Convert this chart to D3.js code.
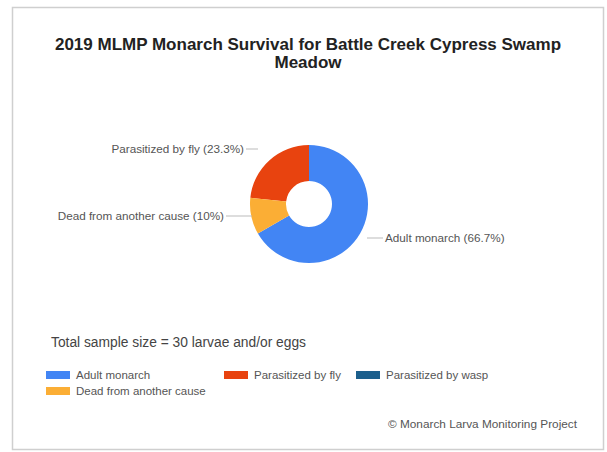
<!DOCTYPE html>
<html>
<head>
<meta charset="utf-8">
<script src="https://cdn.jsdelivr.net/npm/d3@7"></script>
<style>
  body { margin: 0; background: #fff; }
  svg { display: block; font-family: "Liberation Sans", Arial, sans-serif; }
</style>
</head>
<body>
<svg id="chart" width="607" height="452"></svg>
<script>
// chart data
const categories = ["Adult monarch", "Parasitized by fly", "Parasitized by wasp", "Dead from another cause"];
const counts = [20, 7, 0, 3];
const colors = ["#4285f4", "#e8430f", "#1c5f8c", "#fbae35"];
// order the slices are drawn clockwise from 12 o'clock
const sliceOrder = ["Adult monarch", "Parasitized by wasp", "Dead from another cause", "Parasitized by fly"];
const sampleNote = "Total sample size = 30 larvae and/or eggs";
const titleLines = ["2019 MLMP Monarch Survival for Battle Creek Cypress Swamp", "Meadow"];
const credit = "\u00a9 Monarch Larva Monitoring Project";

const svg = d3.select('#chart');
const total = d3.sum(counts);
const color = d3.scaleOrdinal().domain(categories).range(colors);

// frame
svg.append('rect')
    .attr('x', 12.5).attr('y', 7.5)
    .attr('width', 591).attr('height', 442)
    .attr('fill', '#fff')
    .attr('stroke', '#cfcfcf')
    .attr('stroke-width', 1.5);

// title
svg.append('text')
    .attr('x', 308).attr('y', 50)
    .attr('text-anchor', 'middle')
    .attr('font-size', 17)
    .attr('font-weight', 'bold')
    .attr('fill', '#222')
    .selectAll('tspan')
    .data(titleLines)
    .enter()
    .append('tspan')
    .attr('x', 308)
    .attr('dy', (d, i) => i ? 18 : 0)
    .text(d => d);

// donut
const cx = 309, cy = 204, rOuter = 59, rInner = 23;
const data = categories.map((c, i) => ({name: c, value: counts[i]}));
const pie = d3.pie()
    .value(d => d.value)
    .sort((a, b) => sliceOrder.indexOf(a.name) - sliceOrder.indexOf(b.name));
const arcs = pie(data);
const arc = d3.arc().innerRadius(rInner).outerRadius(rOuter);

const g = svg.append('g').attr('transform', 'translate(' + [cx, cy] + ')');
g.selectAll('path')
    .data(arcs.filter(d => d.value > 0))
    .enter()
    .append('path')
    .attr('d', arc)
    .attr('fill', d => color(d.data.name));

// slice labels with short leader lines
const labelPos = {
    "Adult monarch": {x: 385, y: 242, lx: 367, anchor: 'start'},
    "Parasitized by fly": {x: 244, y: 153, lx: 258, anchor: 'end'},
    "Dead from another cause": {x: 224, y: 220, lx: 252, anchor: 'end'}
};
const labelled = arcs.filter(d => d.value > 0);
labelled.forEach(d => {
    const p = labelPos[d.data.name];
    const pct = d3.format('.1~f')(d.value / total * 100);
    const x0 = p.anchor === 'end' ? p.x + 2 : p.x - 2;
    svg.append('line')
        .attr('x1', x0).attr('x2', p.lx)
        .attr('y1', p.y - 4).attr('y2', p.y - 4)
        .attr('stroke', '#bbb')
        .attr('stroke-width', 1);
    svg.append('text')
        .attr('x', p.x).attr('y', p.y)
        .attr('text-anchor', p.anchor)
        .attr('font-size', 11.7)
        .attr('fill', '#555')
        .text(d.data.name + ' (' + pct + '%)');
});

// sample size note
svg.append('text')
    .attr('x', 51).attr('y', 347)
    .attr('font-size', 13.8)
    .attr('fill', '#444')
    .text(sampleNote);

// legend
const legendX = [46, 224, 356];
const legendRows = [378, 394];
const legend = svg.append('g').selectAll('g')
    .data(categories)
    .enter()
    .append('g')
    .attr('transform', (d, i) => 'translate(' + [legendX[i % 3], legendRows[Math.floor(i / 3)]] + ')');
legend.append('rect')
    .attr('x', 0).attr('y', -7)
    .attr('width', 24).attr('height', 8)
    .attr('fill', d => color(d));
legend.append('text')
    .attr('x', 30).attr('y', 1)
    .attr('font-size', 11.5)
    .attr('fill', '#555')
    .text(d => d);

// credit line
svg.append('text')
    .attr('x', 577).attr('y', 428)
    .attr('text-anchor', 'end')
    .attr('font-size', 11.8)
    .attr('fill', '#555')
    .text(credit);
</script>
</body>
</html>
